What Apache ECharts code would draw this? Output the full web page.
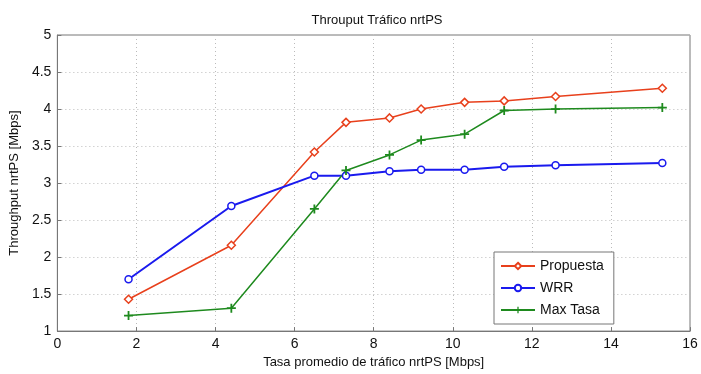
<!DOCTYPE html>
<html><head><meta charset="utf-8">
<script src="https://cdn.jsdelivr.net/npm/echarts@6/dist/echarts.min.js"></script>
<style>html,body{margin:0;padding:0;background:#fff}#c{width:701px;height:374px}</style>
</head><body><div id="c"></div>
<script>
const xRate = [1.8, 4.4, 6.5, 7.3, 8.4, 9.2, 10.3, 11.3, 12.6, 15.3];
const propuesta = [1.43, 2.16, 3.42, 3.82, 3.88, 4.0, 4.09, 4.11, 4.17, 4.28];
const wrr = [1.70, 2.69, 3.10, 3.10, 3.16, 3.18, 3.18, 3.22, 3.24, 3.27];
const maxTasa = [1.21, 1.31, 2.65, 3.17, 3.38, 3.58, 3.66, 3.98, 4.0, 4.02];
const names = ['Propuesta', 'WRR', 'Max Tasa'];

const pair = ys => xRate.map((x, i) => [x, ys[i]]);
const font = 'Liberation Sans, Arial, sans-serif';
const chart = echarts.init(document.getElementById('c'));
const gridLine = {show: true, lineStyle: {color: '#bbb', type: [1, 3], width: 1}};
const RED = '#e8401c', BLUE = '#1a1aee', GREEN = '#1e8a1e';
chart.setOption({
  animation: false,
  backgroundColor: '#fff',
  title: {text: 'Throuput Tráfico nrtPS', left: 372, top: 9, textAlign: 'center',
    textStyle: {fontFamily: font, fontSize: 13, fontWeight: 'normal', color: '#111'}},
  grid: {left: 55, right: 11, top: 35, bottom: 38, show: true, borderColor: '#777', borderWidth: 1},
  legend: {
    orient: 'vertical', left: 494, top: 252, width: 118,
    backgroundColor: '#fff', borderColor: '#777', borderWidth: 1,
    padding: [7, 10, 7, 6], itemGap: 8, itemWidth: 34, itemHeight: 8,
    textStyle: {fontFamily: font, fontSize: 14, color: '#111'},
    data: names
  },
  xAxis: {
    type: 'value', min: 0, max: 16, interval: 2,
    name: 'Tasa promedio de tráfico nrtPS [Mbps]', nameLocation: 'middle', nameGap: 21,
    nameTextStyle: {fontFamily: font, fontSize: 13, color: '#111'},
    axisLine: {show: true, lineStyle: {color: '#777'}},
    axisTick: {show: true, inside: true, length: 4, lineStyle: {color: '#777'}},
    axisLabel: {fontFamily: font, fontSize: 14, color: '#111', margin: 6},
    splitLine: gridLine
  },
  yAxis: {
    type: 'value', min: 1, max: 5, interval: 0.5,
    name: 'Throughput nrtPS [Mbps]', nameLocation: 'middle', nameGap: 33,
    nameTextStyle: {fontFamily: font, fontSize: 13, color: '#111'},
    axisLine: {show: true, lineStyle: {color: '#777'}},
    axisTick: {show: true, inside: true, length: 4, lineStyle: {color: '#777'}},
    axisLabel: {fontFamily: font, fontSize: 14, color: '#111', margin: 6},
    splitLine: gridLine
  },
  series: [
    {name: names[0], type: 'line', data: pair(propuesta), symbol: 'diamond', symbolSize: 8,
      lineStyle: {width: 1.5, color: RED}, itemStyle: {color: '#fff', borderColor: RED, borderWidth: 1.5}},
    {name: names[1], type: 'line', data: pair(wrr), symbol: 'circle', symbolSize: 7,
      lineStyle: {width: 2, color: BLUE}, itemStyle: {color: '#fff', borderColor: BLUE, borderWidth: 1.5}},
    {name: names[2], type: 'line', data: pair(maxTasa),
      symbol: 'path://M4,0 L6,0 L6,4 L10,4 L10,6 L6,6 L6,10 L4,10 L4,6 L0,6 L0,4 L4,4 Z', symbolSize: 9,
      lineStyle: {width: 1.5, color: GREEN}, itemStyle: {color: GREEN}}
  ]
});
</script></body></html>
